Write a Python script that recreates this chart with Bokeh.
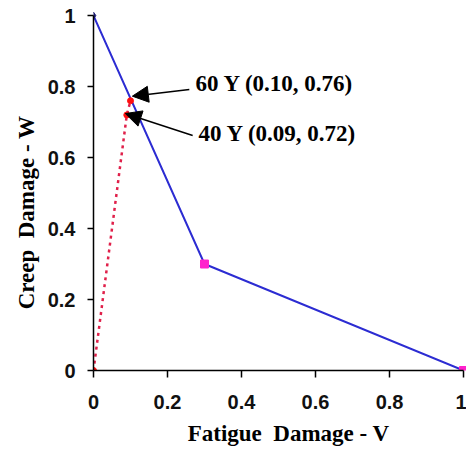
from bokeh.plotting import figure
from bokeh.models import Range1d, FixedTicker, Label, Arrow, NormalHead
from bokeh.embed import file_html
from bokeh.resources import INLINE

# Data
fatigue_v = [0.0, 0.3, 1.0]
creep_w = [1.0, 0.3, 0.0]
path_v = [0.0, 0.09, 0.10]
path_w = [0.0, 0.72, 0.76]
labels = ["60 Y (0.10, 0.76)", "40 Y (0.09, 0.72)"]
label_points = [(0.10, 0.76), (0.09, 0.72)]
ticks = [0, 0.2, 0.4, 0.6, 0.8, 1.0]
tick_labels = ["0", "0.2", "0.4", "0.6", "0.8", "1"]
x_title = "Fatigue\u00a0 Damage - V"
y_title = "Creep\u00a0 Damage - W"

NB = "\u00a0"

p = figure(width=466, height=449, frame_width=373, frame_height=362,
           x_range=Range1d(0, 1.008), y_range=Range1d(0, 1.02),
           output_backend="svg", toolbar_location=None,
           min_border_left=93, min_border_right=0, min_border_top=8, min_border_bottom=79)
p.xgrid.visible = False
p.ygrid.visible = False
p.outline_line_color = None
p.background_fill_color = "white"
p.border_fill_color = "white"

# blue envelope
p.line(fatigue_v, creep_w, line_color="#2c2cd2", line_width=2)
p.scatter(fatigue_v[:1], creep_w[:1], marker="diamond", size=7, color="#1a1a70")
p.scatter(fatigue_v[1:], creep_w[1:], marker="square", size=8, color="#ff22cc")

# red dotted damage path
p.line(path_v, path_w, line_color="#e0204a", line_width=2.5, line_dash="3 4")
p.scatter(path_v, path_w, marker="circle", size=6, color="#ff1010")

# annotations
label_pos = [(0.2757, 0.808), (0.2838, 0.668)]
arrow_tail = [(0.259, 0.792), (0.268, 0.662)]
arrow_tip = [(0.105, 0.773), (0.086, 0.724)]
for txt, (lx, ly), (tx, ty), (hx, hy) in zip(labels, label_pos, arrow_tail, arrow_tip):
    p.add_layout(Label(x=lx, y=ly, text=txt, text_font="Liberation Serif",
                       text_font_style="bold", text_font_size="23px",
                       text_baseline="middle", text_color="black"))
    p.add_layout(Arrow(x_start=tx, y_start=ty, x_end=hx, y_end=hy,
                       line_width=1.5, line_color="black",
                       end=NormalHead(size=16, fill_color="black", line_color="black")))

for ax in (p.xaxis[0], p.yaxis[0]):
    ax.ticker = FixedTicker(ticks=ticks)
    ax.major_label_overrides = {t: l for t, l in zip(ticks, tick_labels)}
    ax.bounds = (0, 1)
    ax.axis_line_color = "black"
    ax.axis_line_width = 1.5
    ax.major_tick_line_color = "black"
    ax.major_tick_line_width = 1.5
    ax.major_tick_in = 0
    ax.minor_tick_line_color = None
    ax.major_label_text_font = "Liberation Sans"
    ax.major_label_text_font_style = "bold"
    ax.major_label_text_font_size = "20px"
    ax.major_label_text_color = "#111111"
    ax.axis_label_text_font = "Liberation Serif"
    ax.axis_label_text_font_style = "bold"
    ax.axis_label_text_font_size = "23px"
    ax.axis_label_text_color = "black"

# leading / trailing no-break spaces shift the centred titles like the reference
p.xaxis.axis_label = NB * 3 + x_title
p.yaxis.axis_label = y_title + NB * 8
p.xaxis.major_tick_out = 7
p.yaxis.major_tick_out = 6
p.xaxis.major_label_standoff = 17
p.yaxis.major_label_standoff = 12
p.xaxis.axis_label_standoff = 9
p.yaxis.axis_label_standoff = 6

open("out.html", "w").write(file_html(p, INLINE))
